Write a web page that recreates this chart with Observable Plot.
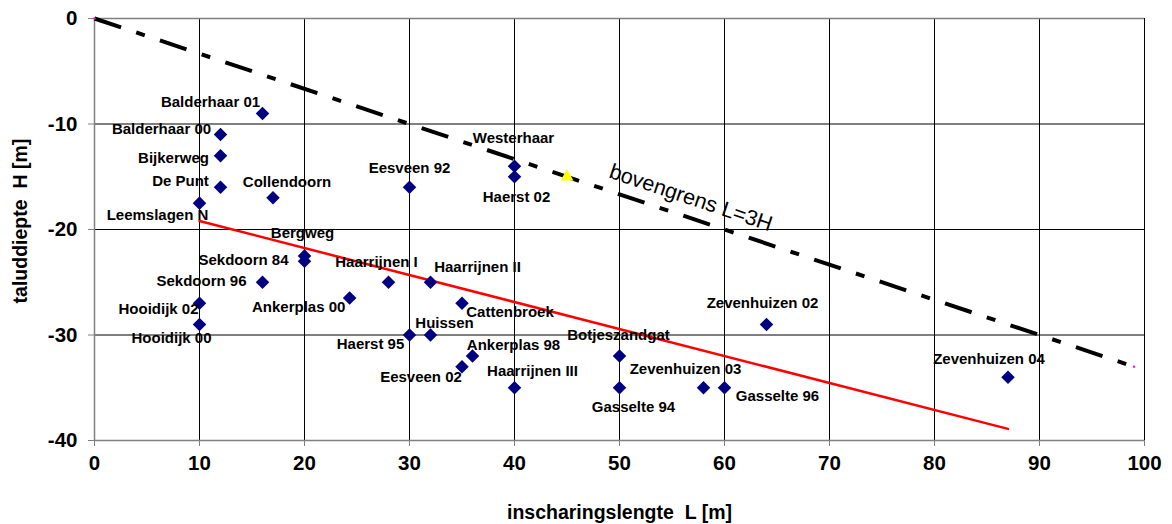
<!DOCTYPE html>
<html><head><meta charset="utf-8">
<script src="https://cdn.jsdelivr.net/npm/d3@7"></script>
<script src="https://cdn.jsdelivr.net/npm/@observablehq/plot@0.6"></script>
<style>body{margin:0;background:#fff;} svg text{white-space:pre;}</style>
</head><body><div id="chart"></div>
<script>
// ---- data ----
const sites = ["Balderhaar 01","Balderhaar 00","Bijkerweg","De Punt","Leemslagen N","Collendoorn","Bergweg","Sekdoorn 84","Sekdoorn 96","Hooidijk 02","Hooidijk 00","Ankerplas 00","Haarrijnen I","Haarrijnen II","Cattenbroek","Huissen","Haerst 95","Ankerplas 98","Eesveen 02","Haarrijnen III","Botjeszandgat","Gasselte 94","Zevenhuizen 03","Gasselte 96","Zevenhuizen 02","Zevenhuizen 04","Eesveen 92","Westerhaar","Haerst 02"];
const lengthL = [16,12,12,12,10,17,20,20,16,10,10,24.3,28,32,35,32,30,36,35,40,50,50,58,60,64,87,30,40,40];
const depthH  = [-9,-11,-13,-16,-17.5,-17,-22.5,-23,-25,-27,-29,-26.5,-25,-25,-27,-30,-30,-32,-33,-35,-32,-35,-35,-35,-29,-34,-16,-14,-15];
const boundL = [0, 99];
const boundH = [0, -33];
const trendL = [10, 87];
const trendH = [-19.2, -38.9];
const markerL = [45];
const markerH = [-15];
const xTicks = [0,10,20,30,40,50,60,70,80,90,100];
const yTicks = [0,-10,-20,-30,-40];
const boundLabel = "bovengrens L=3H";
const xTitle = "inscharingslengte  L [m]";
const yTitle = "taluddiepte  H [m]";

// ---- label placement (pixel offsets, style only) ----
const labelOffset = {
  "Balderhaar 01":[-52,-11],"Balderhaar 00":[-59,-5],"Bijkerweg":[-47,3],"De Punt":[-40,-6],
  "Leemslagen N":[-42,12],"Collendoorn":[14,-16],"Bergweg":[-2,-23],"Sekdoorn 84":[-61,-1],
  "Sekdoorn 96":[-61,-1],"Hooidijk 02":[-41,6],"Hooidijk 00":[-28,14],"Ankerplas 00":[-51,9],
  "Haarrijnen I":[-12,-20],"Haarrijnen II":[47,-15],"Cattenbroek":[48,9],"Huissen":[14,-12],
  "Haerst 95":[-39,9],"Ankerplas 98":[41,-11],"Eesveen 02":[-41,11],"Haarrijnen III":[18,-17],
  "Botjeszandgat":[-1,-21],"Gasselte 94":[14,19],"Zevenhuizen 03":[-18,-19],"Gasselte 96":[53,8],
  "Zevenhuizen 02":[-4,-21],"Zevenhuizen 04":[-19,-18],"Eesveen 92":[0,-19],"Westerhaar":[-1,-28],
  "Haerst 02":[2,20]
};

const points = sites.map((name,i)=>({name, L:lengthL[i], H:depthH[i]}));
const bound = boundL.map((L,i)=>({L, H:boundH[i]}));
const trend = trendL.map((L,i)=>({L, H:trendH[i]}));
const marker = markerL.map((L,i)=>({L, H:markerH[i]}));

const font = "Liberation Sans, Arial, sans-serif";
const labelMarks = points.map(p => Plot.text([p], {
  x:"L", y:"H", text:"name",
  dx: labelOffset[p.name][0], dy: labelOffset[p.name][1],
  fontSize: 15, fontWeight: "bold", fill: "black", fontFamily: font
}));

const chart = Plot.plot({
  width: 1172, height: 524,
  marginLeft: 94, marginRight: 28, marginTop: 18, marginBottom: 84,
  style: {fontFamily: font, background: "white", overflow: "visible"},
  x: {domain: [0, 100]},
  y: {domain: [-40, 0]},
  marks: [
    Plot.gridX(xTicks, {stroke: "black", strokeOpacity: 1, strokeWidth: 1}),
    Plot.gridY(yTicks, {stroke: "black", strokeOpacity: 1, strokeWidth: 1}),
    Plot.ruleY([0, -40], {stroke: "#808080", strokeWidth: 1.5}),
    Plot.ruleX([0], {stroke: "#808080", strokeWidth: 1.5}),
    Plot.axisX(xTicks, {tickSize: 6, tickPadding: 9, fontSize: 20.5, fontWeight: "bold", label: null, stroke: "#808080", tickFormat: d => `${d}`, fill: "black"}),
    Plot.axisY(yTicks, {tickSize: 6, tickPadding: 11, fontSize: 20.5, fontWeight: "bold", label: null, stroke: "#808080", tickFormat: d => `${d}`, fill: "black"}),
    Plot.line(trend, {x: "L", y: "H", stroke: "red", strokeWidth: 2.5}),
    Plot.line(bound, {x: "L", y: "H", stroke: "black", strokeWidth: 4, strokeDasharray: "28,16,9,16", strokeLinecap: "butt"}),
    Plot.dot(bound, {x: "L", y: "H", r: 1.2, fill: "magenta", stroke: null}),
    Plot.dot(points, {x: "L", y: "H", symbol: "diamond2", r: 6.1, fill: "#000080", stroke: null}),
    Plot.dot(marker, {x: "L", y: "H", symbol: "triangle", r: 4.8, fill: "yellow", stroke: null}),
    ...labelMarks,
    Plot.text([boundLabel], {x: () => 56.8, y: () => -17.0, text: d => d, rotate: 18.5, fontSize: 21.5, fill: "black", fontFamily: font}),
    Plot.text([xTitle], {x: () => 50, y: () => -40, dy: 72, lineAnchor: "middle", textAnchor: "middle", text: d => d, fontSize: 19.5, fontWeight: "bold", fill: "black"}),
    Plot.text([yTitle], {x: () => 0, y: () => -19.2, dx: -74, rotate: -90, textAnchor: "middle", lineAnchor: "middle", text: d => d, fontSize: 19.5, fontWeight: "bold", fill: "black"})
  ]
});
document.getElementById("chart").appendChild(chart);
</script>
</body></html>
